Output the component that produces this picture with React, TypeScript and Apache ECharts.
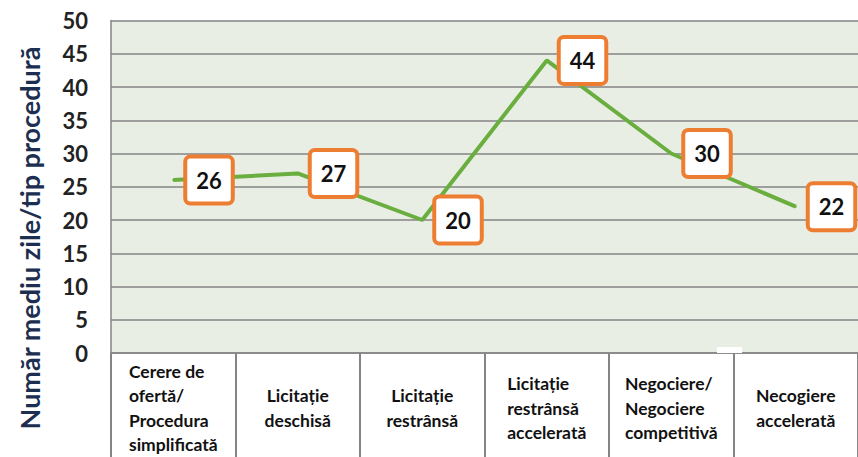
import React, { useEffect, useRef } from "react";
import * as echarts from "echarts";

const categories: string[] = [
  "Cerere de\nofertă/\nProcedura\nsimplificată",
  "Licitație\ndeschisă",
  "Licitație\nrestrânsă",
  "Licitație\nrestrânsă\naccelerată",
  "Negociere/\nNegociere\ncompetitivă",
  "Necogiere\naccelerată",
];
const values: number[] = [26, 27, 20, 44, 30, 22];
const yAxisTitle = "Număr mediu zile/tip procedură";
const yMin = 0;
const yMax = 50;
const yStep = 5;

const FONT = "Lato, 'Open Sans', sans-serif";
const leftAlignedCats = new Set([0, 3, 4]);

export default function App() {
  const ref = useRef<HTMLDivElement>(null);
  useEffect(() => {
    if (!ref.current) return;
    const chart = echarts.init(ref.current, undefined, { renderer: "svg" });
    const tokenStyle = {
      fontFamily: FONT,
      fontWeight: "bold" as const,
      fontSize: 17.5,
      lineHeight: 24.5,
      color: "#111111",
    };
    chart.setOption({
      animation: false,
      backgroundColor: "#ffffff",
      grid: {
        left: 111,
        top: 20.5,
        bottom: 102,
        right: -13,
        show: true,
        backgroundColor: "#e9eee5",
        borderWidth: 0,
      },
      xAxis: {
        type: "category",
        data: categories,
        boundaryGap: true,
        axisLine: { show: true, lineStyle: { color: "#858585", width: 1.5 } },
        axisTick: {
          show: true,
          length: 110,
          lineStyle: { color: "#858585", width: 2 },
        },
        axisLabel: {
          interval: 0,
          margin: 55,
          verticalAlign: "middle",
          align: "center",
          ...tokenStyle,
          formatter: (val: string, idx: number) => {
            const key = leftAlignedCats.has(idx) ? "L" : "C";
            return val
              .split("\n")
              .map((s) => `{${key}|${s}}`)
              .join("\n");
          },
          rich: {
            L: { ...tokenStyle, align: "left" },
            C: { ...tokenStyle, align: "center" },
          },
        },
      },
      yAxis: {
        type: "value",
        min: yMin,
        max: yMax,
        interval: yStep,
        axisLine: { show: true, lineStyle: { color: "#858585", width: 1.5 } },
        axisTick: { show: false },
        splitLine: { show: true, lineStyle: { color: "#858585", width: 1.6 } },
        axisLabel: {
          margin: 23,
          fontFamily: FONT,
          fontWeight: "bold",
          fontSize: 22,
          color: "#222222",
        },
      },
      graphic: [
        {
          type: "text",
          x: 29,
          y: 238,
          rotation: Math.PI / 2,
          style: {
            text: yAxisTitle,
            fontFamily: FONT,
            fontWeight: "bold",
            fontSize: 27,
            fill: "#1c2f50",
            textAlign: "center",
            textVerticalAlign: "middle",
          },
        },
        {
          type: "rect",
          shape: { x: 717, y: 347, width: 25, height: 6 },
          style: { fill: "#ffffff" },
          z: 100,
        },
      ],
      series: [
        {
          type: "line",
          data: values,
          symbol: "circle",
          symbolSize: 2,
          itemStyle: { color: "#6aae3f" },
          lineStyle: { color: "#6aae3f", width: 4 },
          label: {
            show: true,
            position: "right",
            distance: 13,
            fontFamily: FONT,
            fontWeight: "bold",
            fontSize: 22,
            lineHeight: 25,
            color: "#111111",
            backgroundColor: "#ffffff",
            borderColor: "#ed7d31",
            borderWidth: 4,
            borderRadius: 3,
            padding: [9, 9, 9, 9],
          },
        },
      ],
    });
    return () => chart.dispose();
  }, []);
  return (
    <div
      style={{
        position: "fixed",
        left: 0,
        top: 0,
        width: 858,
        height: 457,
        overflow: "hidden",
        background: "#ffffff",
      }}
    >
      <div ref={ref} style={{ width: 858, height: 457 }} />
    </div>
  );
}
